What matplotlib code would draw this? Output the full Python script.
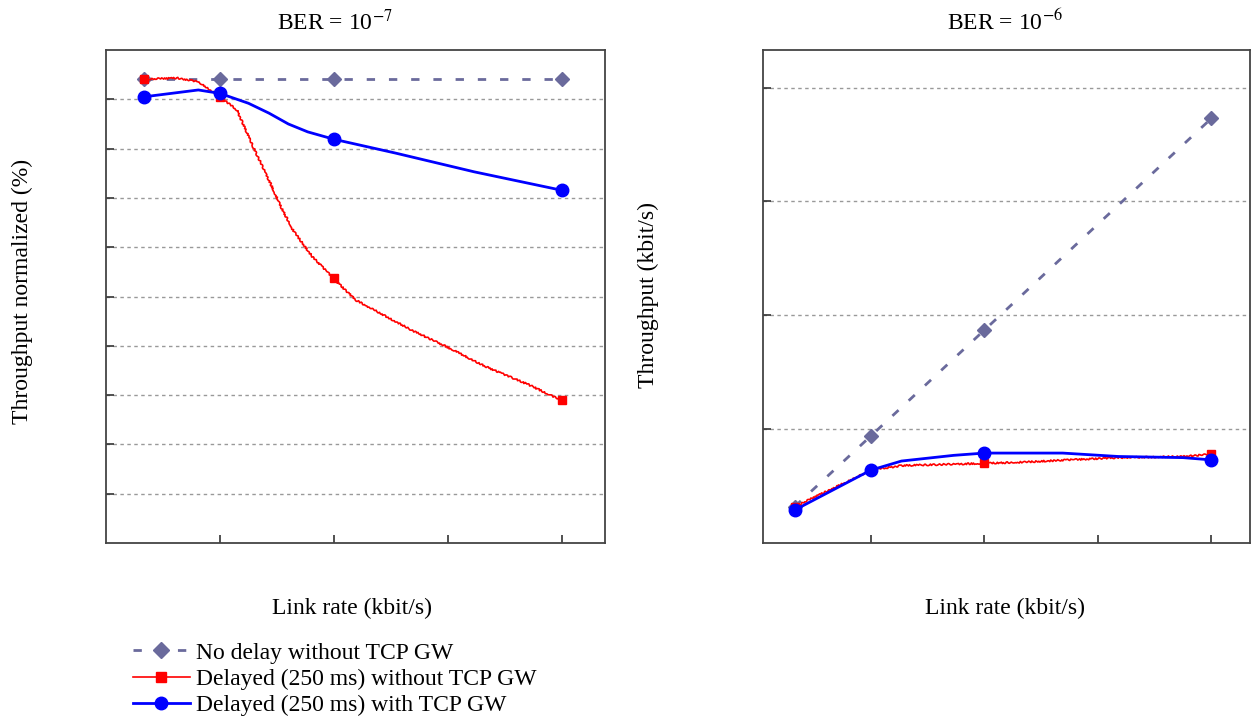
import numpy as np
import matplotlib.pyplot as plt
from matplotlib.lines import Line2D

plt.rcParams['font.family'] = ['Liberation Serif', 'DejaVu Serif']
plt.rcParams['mathtext.fontset'] = 'stix'

# link rate positions (unlabelled axis, tick units)
rate_pts = [0.33, 1, 2, 4]

# BER = 1e-7, normalized throughput (axis units, 10 = top)
left_nodelay = [9.41, 9.41, 9.41, 9.41]
left_red_pts = [9.41, 9.05, 5.38, 2.90]
left_blue_pts = [9.05, 9.12, 8.19, 7.16]

# traced curves between the points
left_red_x = [0.33, 0.63, 0.81, 1.0, 1.15, 1.29, 1.43, 1.535, 1.64, 1.81, 1.99,
              2.19, 2.68, 2.99, 3.33, 3.72, 3.99]
left_red_y = [9.41, 9.43, 9.36, 9.05, 8.78, 8.04, 7.36, 6.82, 6.35, 5.81, 5.38,
              4.93, 4.32, 3.98, 3.58, 3.20, 2.90]
left_blue_x = [0.33, 0.81, 1.0, 1.25, 1.43, 1.6, 1.77, 2.0, 2.54, 3.23, 3.99]
left_blue_y = [9.05, 9.19, 9.12, 8.92, 8.72, 8.50, 8.34, 8.19, 7.91, 7.53, 7.16]

# BER = 1e-6, throughput (kbit/s, axis units)
right_nodelay = [0.32, 0.94, 1.87, 3.73]
right_red_pts = [0.32, 0.64, 0.70, 0.78]
right_blue_pts = [0.29, 0.64, 0.79, 0.73]

right_red_x = [0.33, 1.0, 1.27, 2.0, 2.33, 3.18, 3.75, 4.0]
right_red_y = [0.32, 0.64, 0.68, 0.70, 0.71, 0.75, 0.76, 0.78]
right_blue_x = [0.33, 1.0, 1.27, 1.73, 2.0, 2.69, 3.18, 3.75, 4.0]
right_blue_y = [0.29, 0.64, 0.72, 0.77, 0.79, 0.79, 0.76, 0.75, 0.73]

gray = '#6a6a9c'
red = '#ff0000'
blue = '#0000ff'
fs = 17

fig = plt.figure(figsize=(12.52, 7.22), dpi=100)
ax1 = fig.add_axes([0.0847, 0.2479, 0.3986, 0.6828])
ax2 = fig.add_axes([0.6094, 0.2479, 0.3890, 0.6828])


def draw(ax, nodelay, rx, ry, rpts, bx, by, bpts):
    ax.plot(rate_pts, nodelay, color=gray, lw=2, dashes=(3, 5),
            marker='D', ms=7, zorder=3)
    ln, = ax.plot(rx, ry, color=red, lw=1.2, zorder=4)
    ln.set_sketch_params(scale=0.8, length=4, randomness=3)
    ax.plot(rate_pts, rpts, ls='none', marker='s', ms=6, color=red, zorder=4)
    ax.plot(bx, by, color=blue, lw=2, zorder=5)
    ax.plot(rate_pts, bpts, ls='none', marker='o', ms=9, color=blue, zorder=5)
    ax.set_xticks([1, 2, 3, 4])
    ax.tick_params(direction='in', length=6, width=1.2, colors='#333333',
                   labelbottom=False, labelleft=False)
    ax.grid(axis='y', ls=(0, (2.5, 2.5)), color='#999999', lw=1)
    for s in ax.spines.values():
        s.set_color('#444444')
        s.set_linewidth(1.3)


draw(ax1, left_nodelay, left_red_x, left_red_y, left_red_pts,
     left_blue_x, left_blue_y, left_blue_pts)
ax1.set_xlim(0, 4.38)
ax1.set_ylim(0, 10)
ax1.set_yticks(np.arange(1, 10))

draw(ax2, right_nodelay, right_red_x, right_red_y, right_red_pts,
     right_blue_x, right_blue_y, right_blue_pts)
ax2.set_xlim(0.05, 4.34)
ax2.set_ylim(0, 4.33)
ax2.set_yticks([1, 2, 3, 4])

W, H = 1252, 722
fig.text(335 / W, 1 - 22 / H, 'BER = 10$^{-7}$', fontsize=fs, ha='center', va='center')
fig.text(1005 / W, 1 - 22 / H, 'BER = 10$^{-6}$', fontsize=fs, ha='center', va='center')
fig.text(352 / W, 1 - 608 / H, 'Link rate (kbit/s)', fontsize=fs, ha='center', va='center')
fig.text(1005 / W, 1 - 608 / H, 'Link rate (kbit/s)', fontsize=fs, ha='center', va='center')
fig.text(22 / W, 1 - 291 / H, 'Throughput normalized (%)', fontsize=fs,
         rotation=90, ha='center', va='center')
fig.text(648 / W, 1 - 295 / H, 'Throughput (kbit/s)', fontsize=fs,
         rotation=90, ha='center', va='center')

handles = [
    Line2D([], [], color=gray, lw=2, dashes=(3, 5), marker='D', ms=8),
    Line2D([], [], color=red, lw=1.2, marker='s', ms=7),
    Line2D([], [], color=blue, lw=2, marker='o', ms=9),
]
labels = ['No delay without TCP GW', 'Delayed (250 ms) without TCP GW',
          'Delayed (250 ms) with TCP GW']
fig.legend(handles, labels, loc='upper left', bbox_to_anchor=(133 / W, 1 - 642 / H),
           frameon=False, fontsize=fs, handlelength=2.4, handletextpad=0.25,
           labelspacing=0.2, borderpad=0, borderaxespad=0)

fig.savefig('out.png', dpi=100)
